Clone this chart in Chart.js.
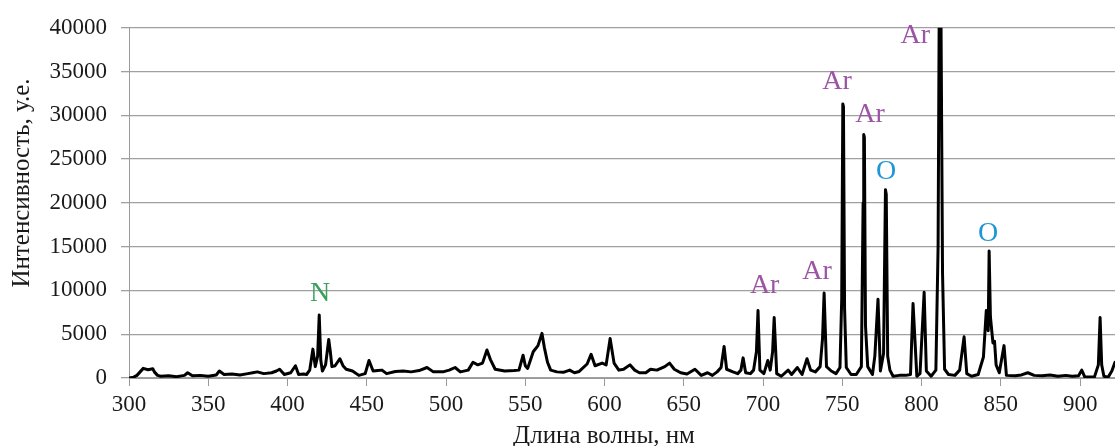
<!DOCTYPE html>
<html lang="ru">
<head>
    <meta charset="UTF-8">
    <title>Спектр излучения</title>
    <script src="https://cdn.jsdelivr.net/npm/chart.js@4.4.1/dist/chart.umd.min.js"></script>
    <style>
        html, body { margin: 0; padding: 0; background: #fff; }
        #wrap { width: 1115px; height: 446px; position: relative; }
    </style>
</head>
<body>
    <div id="wrap"><canvas id="spectrum"></canvas></div>

    <script>
        // длина волны, нм
        const wavelength = [
            300, 303, 305, 307, 309, 312, 315, 316, 318, 320,
            325, 330, 335, 337, 340, 345, 350, 355, 357, 360,
            365, 370, 375, 378, 381, 385, 390, 393, 395, 398,
            402, 405, 407, 410, 412, 414, 416, 417.5, 419, 420,
            421, 422, 424, 426, 427, 428, 430, 433, 435, 437,
            441, 445, 449, 451.4, 454, 457, 459.6, 462.5, 468, 473,
            478, 483, 488, 492, 498, 502, 505.7, 509, 514, 517,
            520, 523, 525.8, 528, 531, 537, 543, 546, 548.6, 550,
            551.5, 555, 558, 560.5, 562, 564, 566, 570, 574, 578,
            581, 584, 589, 591.5, 594, 598.5, 601, 603.5, 606, 609,
            612, 616, 619, 622, 626, 629, 633, 638, 641, 644,
            648, 652, 657, 661, 665, 668, 671, 673.5, 675.4, 677,
            681, 684, 686, 687.4, 689, 692, 694, 695.8, 696.8, 698,
            700.5, 703, 704.5, 706, 707, 708.6, 711.5, 715.8, 718, 721.6,
            724.6, 727.7, 730, 733, 736, 737.5, 738.5, 740, 743, 746,
            748.5, 749.6, 750.3, 750.7, 751.4, 752.5, 755.5, 758.8, 762, 763.1,
            763.5, 763.9, 764.6, 766, 769, 770.5, 772.5, 774, 776, 777.2,
            777.7, 778.6, 780, 782, 786, 790, 793, 794.6, 797, 799,
            801.6, 803, 806, 809, 810.4, 811.1, 812.2, 813.2, 814.5, 817,
            821, 824, 826.8, 828.5, 831.5, 835.7, 839, 840.8, 842, 842.6,
            843.4, 845, 846, 847, 849, 852, 853.5, 859, 863, 867,
            871, 876, 881, 886, 891, 895, 899, 901, 903, 909,
            911.5, 912.6, 913.6, 915, 917.7, 920, 922
        ];

        // интенсивность, у.е.
        const intensity = [
            0, 100, 300, 700, 1100, 950, 1050, 700, 300, 200,
            250, 150, 300, 600, 250, 300, 200, 350, 800, 400,
            450, 350, 500, 600, 700, 500, 600, 800, 1000, 400,
            600, 1400, 400, 450, 400, 900, 3300, 1300, 2500, 7200,
            2000, 800, 1500, 4400, 3000, 1300, 1400, 2200, 1400, 1000,
            800, 300, 500, 2000, 800, 850, 900, 500, 750, 800,
            700, 850, 1200, 700, 700, 900, 1200, 700, 900, 1800,
            1500, 1700, 3200, 2100, 1000, 800, 850, 900, 2600, 1400,
            1100, 3000, 3700, 5100, 3500, 1800, 900, 700, 650, 900,
            600, 750, 1600, 2700, 1400, 1700, 1500, 4500, 1700, 900,
            1000, 1500, 900, 600, 600, 1000, 900, 1300, 1700, 1000,
            600, 450, 1000, 300, 600, 300, 700, 1200, 3600, 1000,
            700, 500, 900, 2300, 600, 500, 900, 3000, 7700, 900,
            500, 2000, 900, 3000, 6900, 500, 200, 900, 400, 1200,
            400, 2200, 900, 700, 1300, 4500, 9700, 1300, 800, 500,
            1200, 9000, 31300, 31000, 8000, 1200, 400, 400, 1300, 20000,
            27800, 27500, 6000, 1300, 400, 2500, 9000, 800, 2800, 21500,
            21000, 2500, 900, 200, 300, 300, 400, 8500, 200, 500,
            9800, 800, 200, 900, 15000, 42000, 42000, 12000, 1000, 400,
            300, 900, 4700, 500, 200, 400, 2400, 7700, 5400, 14500,
            7000, 4000, 4200, 1500, 600, 3700, 300, 250, 350, 600,
            300, 250, 350, 200, 300, 200, 250, 900, 100, 100,
            1500, 6900, 1500, 200, 100, 800, 1800
        ];

        // подписи линий
        const labelText = ['N', 'Ar', 'Ar', 'Ar', 'Ar', 'O', 'Ar', 'O'];
        const labelNm = [420.5, 701, 734, 746.7, 767.5, 777.6, 796, 842];
        const labelValue = [9600, 10500, 12200, 33800, 30100, 23600, 39100, 16500];
        const labelColor = ['#3aa05c', '#9c55a4', '#9c55a4', '#9c55a4', '#9c55a4', '#1f97d4', '#9c55a4', '#1f97d4'];

        const xTicks = [300, 350, 400, 450, 500, 550, 600, 650, 700, 750, 800, 850, 900];
        const xTitle = 'Длина волны, нм';
        const yTitle = 'Интенсивность, у.е.';

        const points = wavelength.map((w, i) => ({ x: w, y: intensity[i] }));
        const serif = '"Liberation Serif", "Times New Roman", serif';

        const peakLabels = {
            id: 'peakLabels',
            afterDatasetsDraw(chart) {
                const { ctx, scales } = chart;
                ctx.save();
                ctx.font = '28px ' + serif;
                ctx.textAlign = 'center';
                ctx.textBaseline = 'middle';
                labelText.forEach((t, i) => {
                    ctx.fillStyle = labelColor[i];
                    ctx.fillText(t, scales.x.getPixelForValue(labelNm[i]), scales.y.getPixelForValue(labelValue[i]));
                });
                ctx.restore();
            }
        };

        // axis titles sit a bit left/up of the plot centre, as in the original
        const axisTitles = {
            id: 'axisTitles',
            afterDraw(chart) {
                const { ctx } = chart;
                ctx.save();
                ctx.font = '25px ' + serif;
                ctx.fillStyle = '#1a1a1a';
                ctx.textAlign = 'center';
                ctx.textBaseline = 'middle';
                ctx.fillText(xTitle, 604, 436);
                ctx.translate(22, 183);
                ctx.rotate(-Math.PI / 2);
                ctx.fillText(yTitle, 0, 0);
                ctx.restore();
            }
        };

        new Chart(document.getElementById('spectrum'), {
            type: 'line',
            data: {
                datasets: [{
                    data: points,
                    borderColor: '#000',
                    borderWidth: 3,
                    borderJoinStyle: 'round',
                    borderCapStyle: 'round',
                    pointRadius: 0,
                    tension: 0,
                    fill: false
                }]
            },
            options: {
                responsive: true,
                maintainAspectRatio: false,
                animation: false,
                layout: { padding: { top: 25, right: 0, bottom: 0, left: 0 } },
                plugins: { legend: { display: false }, tooltip: { enabled: false } },
                scales: {
                    x: {
                        type: 'linear',
                        min: 300,
                        max: 922,
                        afterBuildTicks: (scale) => { scale.ticks = xTicks.map(v => ({ value: v })); },
                        afterFit: (scale) => { scale.height = 68; },
                        grid: { drawOnChartArea: false, drawTicks: true, tickLength: 8, color: '#9a9a9a' },
                        border: { color: '#9a9a9a' },
                        ticks: { color: '#1a1a1a', font: { family: serif, size: 23 }, padding: 5, maxRotation: 0 }
                    },
                    y: {
                        min: 0,
                        max: 40000,
                        afterFit: (scale) => { scale.width = 129; },
                        grid: { color: '#a0a0a0', lineWidth: 1.3, tickLength: 8 },
                        border: { color: '#9a9a9a' },
                        ticks: {
                            stepSize: 5000,
                            color: '#1a1a1a',
                            font: { family: serif, size: 23 },
                            padding: 14,
                            callback: (v) => String(v)
                        }
                    }
                }
            },
            plugins: [peakLabels, axisTitles]
        });
    </script>
</body>
</html>
